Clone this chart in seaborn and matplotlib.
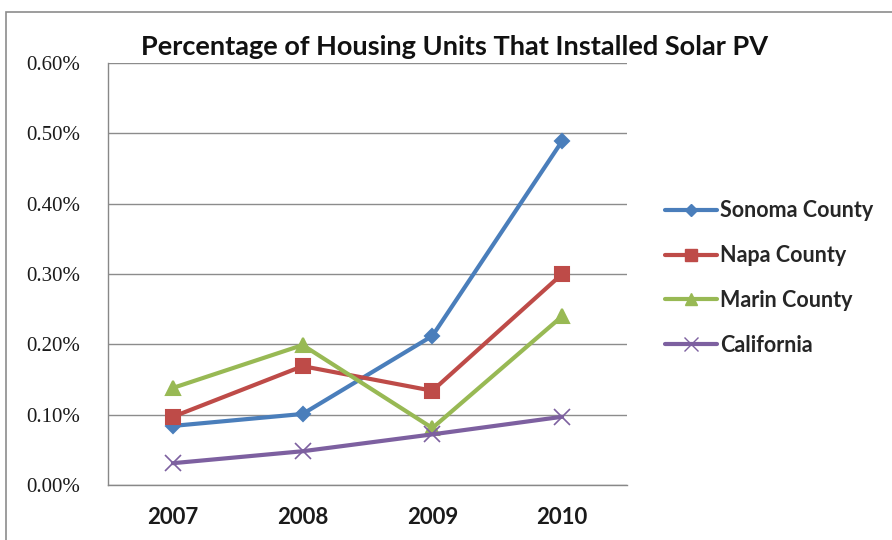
import matplotlib
matplotlib.use("Agg")
import matplotlib.pyplot as plt
import seaborn as sns
import pandas as pd
from matplotlib.patches import Rectangle
from matplotlib.lines import Line2D
from matplotlib.ticker import FuncFormatter

years = ["2007", "2008", "2009", "2010"]
sonoma = [0.084, 0.101, 0.212, 0.489]
napa = [0.097, 0.169, 0.134, 0.300]
marin = [0.138, 0.199, 0.081, 0.240]
california = [0.031, 0.048, 0.072, 0.097]
series_names = ["Sonoma County", "Napa County", "Marin County", "California"]
y_ticks = [0.0, 0.1, 0.2, 0.3, 0.4, 0.5, 0.6]

sns.set_theme(style="white")
plt.rcParams["font.family"] = ["Lato", "DejaVu Sans"]

colors = ["#4A7EBB", "#BE4B48", "#98B954", "#7D60A0"]
markers = ["D", "s", "^", "x"]
msizes = [7, 10, 10, 11]
values = [sonoma, napa, marin, california]

fig = plt.figure(figsize=(8.92, 5.4), dpi=100)
ax = fig.add_axes([108 / 892, 1 - 485 / 540, (627 - 108) / 892, (485 - 63) / 540])

handles = []
for name, vals, c, m, ms in zip(series_names, values, colors, markers, msizes):
    df = pd.DataFrame({"x": range(len(years)), "y": vals})
    sns.lineplot(data=df, x="x", y="y", ax=ax, color=c, linewidth=3,
                 marker=m, markersize=ms, markeredgecolor=c,
                 markeredgewidth=1.5 if m != "x" else 1.2)
    handles.append(Line2D([0], [0], color=c, linewidth=3, marker=m,
                          markersize=ms * 0.9, markeredgecolor=c))

ax.set_xlim(-0.5, len(years) - 0.5)
ax.set_ylim(0, 0.6)
ax.set_yticks(y_ticks)
ax.yaxis.set_major_formatter(FuncFormatter(lambda v, p: f"{v:.2f}%"))
ax.set_xticks(range(len(years)))
ax.set_xticklabels(years)
ax.set_xticks([i + 0.5 for i in range(len(years) - 1)] + [-0.5, len(years) - 0.5], minor=True)
ax.tick_params(axis="x", which="major", length=0, labelsize=16, pad=16)
ax.tick_params(axis="x", which="minor", length=7, width=1, color="#888888", direction="out")
ax.tick_params(axis="y", which="major", length=8, width=1, color="#888888", direction="out",
               labelsize=15, pad=12)
ax.set_xlabel("")
ax.set_ylabel("")
for lab in ax.get_xticklabels():
    lab.set_fontweight("bold")
    lab.set_color("#1a1a1a")
for lab in ax.get_yticklabels():
    lab.set_family(["Liberation Serif", "DejaVu Serif"])
    lab.set_color("#1a1a1a")

ax.grid(axis="y", color="#8c8c8c", linewidth=1)
ax.set_axisbelow(True)
for s in ["top", "right"]:
    ax.spines[s].set_visible(False)
for s in ["left", "bottom"]:
    ax.spines[s].set_color("#888888")
    ax.spines[s].set_linewidth(1)

fig.text(455 / 892, 1 - 47 / 540, "Percentage of Housing Units That Installed Solar PV",
         ha="center", va="center", fontsize=19.5, fontweight="bold", color="#111111")

fig.legend(handles, series_names, loc="center left", bbox_to_anchor=(646 / 892, 1 - 278 / 540),
           frameon=False, handlelength=2.4, handletextpad=0.15,
           labelspacing=1.1, prop={"weight": "bold", "size": 15.5})

fig.patches.append(Rectangle((6 / 892, -0.05), 1.2, 1 - 12 / 540 + 0.05,
                             transform=fig.transFigure, fill=False,
                             edgecolor="#8c8c8c", linewidth=1.2))

fig.savefig("out.png", dpi=100)
